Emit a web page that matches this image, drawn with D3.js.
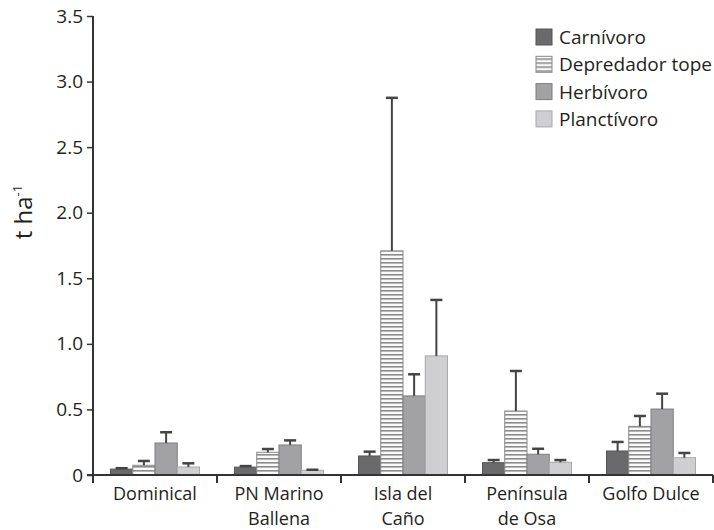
<!DOCTYPE html>
<html>
<head>
<meta charset="utf-8">
<script src="https://cdn.jsdelivr.net/npm/d3@7"></script>
<style>
  body { margin: 0; background: #fff; }
  text { font-family: "Open Sans", sans-serif; fill: #231f20; }
</style>
</head>
<body>
<svg id="chart" width="714" height="530"></svg>
<script>
// Sites and trophic groups
const sites = [["Dominical"], ["PN Marino", "Ballena"], ["Isla del", "Caño"], ["Península", "de Osa"], ["Golfo Dulce"]];
const groups = ["Carnívoro", "Depredador tope", "Herbívoro", "Planctívoro"];

// mean biomass per group, one value per site
const carnivoro = [0.045, 0.06, 0.145, 0.094, 0.183];
const depredador = [0.074, 0.173, 1.709, 0.488, 0.371];
const herbivoro = [0.244, 0.229, 0.603, 0.158, 0.503];
const planctivoro = [0.061, 0.036, 0.908, 0.097, 0.132];

// top of the error bars
const carnivoroErr = [0.052, 0.068, 0.178, 0.114, 0.252];
const depredadorErr = [0.107, 0.198, 2.876, 0.793, 0.45];
const herbivoroErr = [0.326, 0.264, 0.768, 0.2, 0.62];
const planctivoroErr = [0.089, 0.04, 1.335, 0.114, 0.168];

const yTicks = [0, 0.5, 1.0, 1.5, 2.0, 2.5, 3.0, 3.5];

const values = [carnivoro, depredador, herbivoro, planctivoro];
const errors = [carnivoroErr, depredadorErr, herbivoroErr, planctivoroErr];

const svg = d3.select("#chart");
const margin = {left: 93, right: 1, top: 16, bottom: 55};
const width = 714 - margin.left - margin.right;
const height = 530 - margin.top - margin.bottom;

const g = svg.append("g").attr("transform", `translate(${margin.left},${margin.top})`);

// fills for each group
const fills = ["#6a6a6c", "url(#stripes)", "#a2a2a4", "#cfcfd1"];
const strokes = ["#555", "#888", "#7e7e80", "#a8a8aa"];

// striped pattern for "Depredador tope"
const pat = svg.append("defs").append("pattern")
    .attr("id", "stripes")
    .attr("patternUnits", "userSpaceOnUse")
    .attr("width", 8).attr("height", 4);
pat.append("rect").attr("width", 8).attr("height", 4).attr("fill", "#fafafa");
pat.append("rect").attr("y", 2).attr("width", 8).attr("height", 1.6).attr("fill", "#8c8c8c");

const x0 = d3.scaleBand()
    .domain(d3.range(sites.length))
    .range([0, width])
    .paddingInner(0)
    .paddingOuter(0);

const x1 = d3.scaleBand()
    .domain(d3.range(groups.length))
    .range([17.5, x0.bandwidth() - 17.5]);

const y = d3.scaleLinear()
    .domain([0, 3.5])
    .range([height, 0]);

// bars
groups.forEach((grp, gi) => {
    g.selectAll(".bar" + gi)
        .data(values[gi])
        .enter()
        .append("rect")
        .attr("x", (d, i) => x0(i) + x1(gi))
        .attr("y", d => y(d))
        .attr("width", x1.bandwidth())
        .attr("height", d => y(0) - y(d))
        .attr("fill", fills[gi])
        .attr("stroke", strokes[gi])
        .attr("stroke-width", 1);

    // error bars (upper only)
    const eb = g.selectAll(".err" + gi)
        .data(errors[gi])
        .enter()
        .append("g");
    eb.append("line")
        .attr("x1", (d, i) => x0(i) + x1(gi) + x1.bandwidth() / 2)
        .attr("x2", (d, i) => x0(i) + x1(gi) + x1.bandwidth() / 2)
        .attr("y1", (d, i) => y(values[gi][i]))
        .attr("y2", d => y(d))
        .attr("stroke", "#444")
        .attr("stroke-width", 2);
    eb.append("line")
        .attr("x1", (d, i) => x0(i) + x1(gi) + x1.bandwidth() / 2 - 6)
        .attr("x2", (d, i) => x0(i) + x1(gi) + x1.bandwidth() / 2 + 6)
        .attr("y1", d => y(d))
        .attr("y2", d => y(d))
        .attr("stroke", "#444")
        .attr("stroke-width", 2.5);
});

// y axis
const yAxis = g.append("g")
    .call(d3.axisLeft(y).tickValues(yTicks).tickSize(6).tickPadding(4)
        .tickFormat(d => d === 0 ? "0" : d3.format(".1f")(d)));
yAxis.select(".domain").attr("stroke", "#333").attr("stroke-width", 2)
    .attr("d", `M0,${y(3.5)}V${height + 8}`);
yAxis.selectAll(".tick line").attr("stroke", "#333").attr("stroke-width", 1.5);
yAxis.selectAll("text").style("font-size", "19px").attr("fill", "#231f20");

// x axis
g.append("line")
    .attr("x1", -6).attr("x2", width)
    .attr("y1", height).attr("y2", height)
    .attr("stroke", "#333").attr("stroke-width", 2);
g.selectAll(".xtick")
    .data(d3.range(1, sites.length + 1))
    .enter()
    .append("line")
    .attr("x1", d => x0.step() * d).attr("x2", d => x0.step() * d)
    .attr("y1", height).attr("y2", height + 8)
    .attr("stroke", "#333").attr("stroke-width", 2);

// each label line is its own text so the two lines never share a box
sites.forEach((lines, i) => {
    lines.forEach((line, li) => {
        g.append("text")
            .attr("text-anchor", "middle")
            .attr("x", x0(i) + x0.bandwidth() / 2)
            .attr("y", height + 25 + li * 24.5)
            .style("font-size", "18px")
            .text(line);
    });
});

// y axis title
const ylab = svg.append("text")
    .attr("transform", "translate(32,212) rotate(-90)")
    .attr("text-anchor", "middle")
    .style("font-size", "24px");
ylab.append("tspan").text("t ha");
ylab.append("tspan").attr("dy", -10).style("font-size", "13px").text("-1");

// legend
const legend = svg.append("g").attr("transform", "translate(536,29)");
groups.forEach((grp, gi) => {
    const row = legend.append("g").attr("transform", `translate(0,${gi * 27.3})`);
    row.append("rect")
        .attr("width", 16).attr("height", 16)
        .attr("fill", fills[gi])
        .attr("stroke", strokes[gi]);
    row.append("text")
        .attr("x", 23).attr("y", 15)
        .style("font-size", "19px")
        .text(grp);
});
</script>
</body>
</html>
